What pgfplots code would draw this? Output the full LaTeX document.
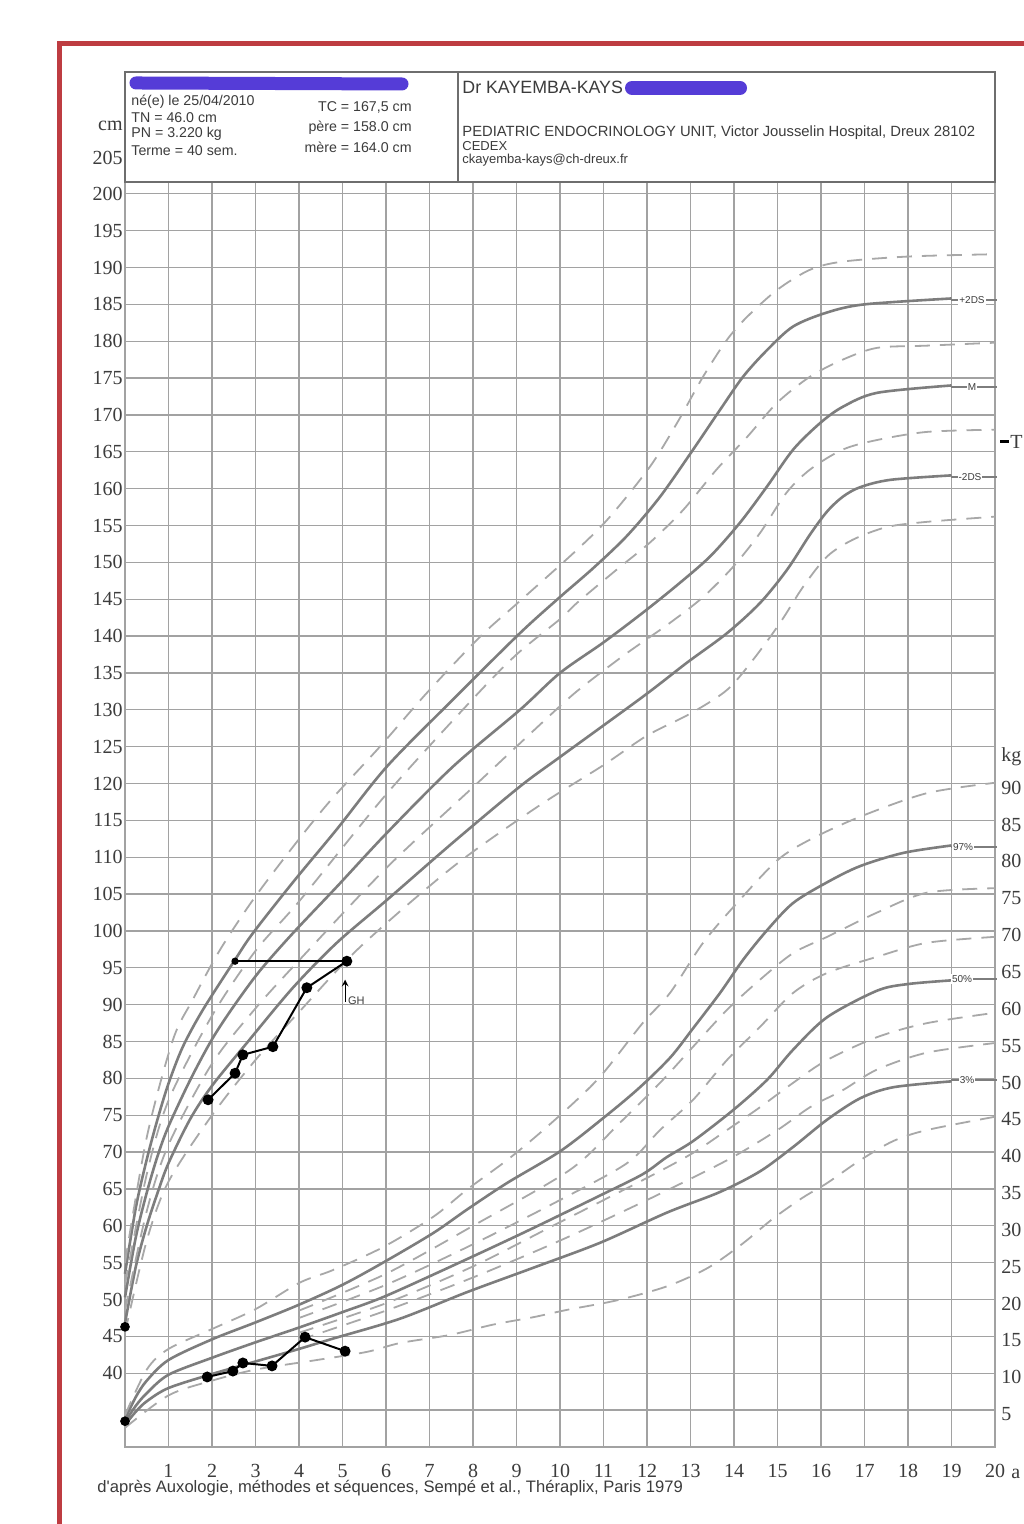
\documentclass[border=0pt]{standalone}
\usepackage{pgfplots}
\pgfplotsset{compat=1.18}
\usepackage{fontspec}
\setmainfont{Liberation Serif}
\newfontfamily\sans{Liberation Sans}
\definecolor{gridc}{RGB}{162,162,162}
\definecolor{curvec}{RGB}{125,125,125}
\definecolor{dashcol}{RGB}{168,168,168}
\definecolor{framec}{RGB}{190,60,65}
\definecolor{blobc}{RGB}{85,60,215}
\definecolor{txtc}{RGB}{60,60,60}
\definecolor{boxc}{RGB}{110,110,110}
\pgfplotsset{
  solidc/.style={curvec, line width=1.3pt, smooth, no markers},
  dashc/.style={dashcol, line width=0.9pt, dash pattern=on 7.5pt off 5pt, smooth, no markers},
}
\begin{document}
\begin{tikzpicture}
\useasboundingbox (-62.5pt,-38.5pt) rectangle (449pt,723.5pt);
\fill[white] (-62.5pt,-38.5pt) rectangle (449pt,723.5pt);
\begin{axis}[
  at={(0pt,0pt)}, anchor=south west, scale only axis,
  width=435pt, height=632.5pt,
  xmin=0, xmax=20, ymin=30, ymax=201.6, clip=false,
  xtick={1,...,20}, ytick={40,45,...,200},
  extra x ticks={0}, extra x tick labels={},
  extra y ticks={30,35}, extra y tick labels={},
  extra tick style={grid=major},
  grid=major, major grid style={gridc, line width=0.65pt},
  axis line style={gridc, line width=0.8pt},
  tick style={draw=none},
  /pgf/number format/assume math mode=true,
  ticklabel style={font=\fontsize{10}{10}\selectfont, text=txtc},
  xticklabel style={anchor=center, yshift=-12pt},
  yticklabel style={anchor=east, inner sep=1pt},
]
% ---------- height: solid curves ----------
\addplot[solidc] table {
0 53.5
0.25 62.5
0.5 69
0.75 74.5
1.0 79.3
1.33 84.3
1.79 89.3
2.53 96.1
2.94 99.7
3.86 106.6
4.87 113.8
6.02 122.3
7.54 131.4
9.08 140.4
10.0 145.3
10.76 149.2
11.54 153.6
12.30 158.9
13.06 165.3
13.68 170.7
14.21 175.2
14.76 178.8
15.36 182.0
16.14 183.9
17.0 185.0
19.0 185.8
};
\addplot[solidc] table {
0 50.3
0.25 58.5
0.5 64.5
0.75 69.5
1.0 73.5
1.5 79.8
2.0 85.3
2.5 89.8
3.1 94.6
3.86 99.7
4.87 106.0
6.02 113.3
7.54 122.3
9.08 130.0
10.0 135.0
10.99 139.1
11.91 143.2
12.69 146.9
13.45 150.8
14.14 155.4
14.76 160.3
15.36 165.3
15.98 168.9
16.5 171.1
17.29 173.0
19.0 174.0
};
\addplot[solidc] table {
0 46.8
0.25 54.5
0.5 60
0.75 64.5
1.0 68.5
1.5 74.5
2.0 79
2.8 84.8
3.86 92.3
4.87 98.4
6.02 104.2
7.54 112.0
9.08 119.6
10.0 123.6
11.91 131.8
12.92 136.4
13.84 140.4
14.6 144.5
15.22 149.0
15.75 153.8
16.14 156.9
16.5 158.9
16.9 160.2
17.6 161.2
19.0 161.8
};
% ---------- height: dashed curves ----------
\addplot[dashc] table {
0 55
0.5 72
1.1 85.2
1.56 90.7
2.18 97.4
2.94 104.2
3.86 111.4
4.71 117.6
5.86 125.0
6.94 132.3
8.16 139.9
9.01 144.4
10.39 151.7
11.15 156.2
12.07 163.0
12.69 168.9
13.29 175.2
13.84 180.2
14.3 183.3
15.0 187.0
15.75 189.7
16.5 190.8
18.05 191.5
20 191.8
};
\addplot[dashc] table {
0 52
0.5 67
1 77
2 88.5
3 97.3
4 104
6 118.5
8 131.5
9.0 137.5
10.0 142.3
10.39 144.5
11.3 149
12.07 152.7
12.83 157.1
13.6 162.6
14.3 167.0
15.0 171.7
15.75 175.2
16.5 177.5
17.29 179.1
18.44 179.4
20 179.8
};
\addplot[dashc] table {
0 48.5
0.5 62
1 71
2 82
3 89.5
4 96
6 108.5
8 119.5
10 130.5
10.62 133.6
11.54 137.7
12.53 141.8
13.29 145.3
13.98 149.4
14.6 154.0
15.2 159.4
15.75 162.6
16.5 165.3
17.29 166.6
18.44 167.7
20 168.0
};
\addplot[dashc] table {
0 45.5
0.5 58
1 66
2 75
3 82.5
4 89
5.4 97.8
7.54 108.7
9.47 116.8
11 122.5
12 126.5
13.0 129.5
13.84 132.7
14.44 136.8
15.06 141.8
15.59 146.7
16.14 150.8
16.74 153.1
17.52 154.8
18.44 155.5
20 156.2
};
% ---------- weight (kg + 30) ----------
\addplot[solidc] table[y expr=\thisrowno{1}+30] {
0 3.8
0.25 6.8
0.5 9.0
1.0 11.8
2.0 14.6
3.0 16.9
4.0 19.3
5.0 22.0
5.93 25.0
7.08 29.0
7.86 32.2
8.78 35.8
10.0 40.1
10.99 44.6
11.8 48.6
12.53 52.8
13.06 56.8
13.68 61.6
14.21 66.1
14.76 70.1
15.36 73.8
16.14 76.6
16.9 78.8
17.9 80.6
19.0 81.6
};
\addplot[solidc] table[y expr=\thisrowno{1}+30] {
0 3.4
0.25 5.6
0.5 7.3
1.0 9.8
2.0 12.1
3.0 14.2
4.0 16.2
5.0 18.3
6.0 20.5
7.83 25.4
9.35 29.6
10.95 34.2
11.9 37.0
12.45 39.3
13.06 41.5
13.98 45.7
14.76 49.8
15.36 53.9
16.14 58.3
17.29 61.9
18.0 62.8
19.0 63.3
};
\addplot[solidc] table[y expr=\thisrowno{1}+30] {
0 3.0
0.25 4.8
0.5 6.2
1.0 8.0
2.0 9.9
3.0 11.6
4.0 13.3
4.78 14.7
6.32 17.4
7.86 21.0
9.38 24.3
10.92 27.7
12.46 31.8
13.68 34.6
14.6 37.4
15.36 40.7
16.14 44.4
16.9 47.3
17.66 48.8
19.0 49.6
};
\addplot[dashc] table[y expr=\thisrowno{1}+30] {
0 4.3
0.5 10.5
1 13.3
2 16.0
3 18.7
4.02 22.3
4.78 24.0
5.93 27.1
7.08 31.2
7.86 34.9
8.78 38.9
9.54 42.6
10.39 47.1
10.99 50.7
11.9 57.5
12.53 61.6
13.29 68.4
14.07 73.8
15.0 79.6
15.75 82.4
16.9 85.5
18.44 88.7
20 90.1
};
\addplot[dashc] table[y expr=\thisrowno{1}+30] {
4 18.5
6 23.5
8 30
10.23 37.6
11.38 44.0
12.3 49.4
13.06 54.3
13.84 59.3
14.6 63.4
15.36 67.0
16.14 69.2
17.29 72.5
18.44 75.2
20 75.8
};
\addplot[dashc] table[y expr=\thisrowno{1}+30] {
4 17.5
6 22
8 27.5
10 33.5
11.54 38.5
12.3 43.0
13.06 47.1
13.84 52.5
14.6 57.0
15.36 61.6
16.14 64.3
17.29 66.5
18.44 68.4
20 69.2
};
\addplot[dashc] table[y expr=\thisrowno{1}+30] {
4 15.5
6 19.5
8 24.5
10 30.5
12 36.5
13.06 39.9
13.84 43.0
14.6 46.1
15.36 49.4
16.14 52.5
17.29 55.6
18.44 57.5
20 58.9
};
\addplot[dashc] table[y expr=\thisrowno{1}+30] {
4 14.5
6 18.5
8 23
10 28
12 33.5
13.84 38.9
15.0 43.0
15.75 46.1
16.5 48.4
17.29 51.2
18.44 53.5
20 54.8
};
\addplot[dashc] table[y expr=\thisrowno{1}+30] {
0 2.6
1 7
2 9
3 10.5
4.41 11.8
5.56 12.9
6.32 14.1
7.47 15.2
8.46 16.6
9.38 17.6
10.16 18.6
11.31 19.9
12.46 21.8
13.4 24.3
14.2 27.6
14.9 31.0
15.6 33.9
16.14 35.8
16.9 38.9
17.66 41.5
18.44 43.0
20 44.8
};
% ---------- patient ----------
\addplot[black, line width=1pt, mark=*, mark size=2.2pt] coordinates {
(1.91,77.1) (2.53,80.7) (2.71,83.2) (3.40,84.3) (4.18,92.3) (5.10,95.9)};
\addplot[black, line width=0.8pt, mark=*, mark size=1.4pt] coordinates {
(2.53,95.9) (5.10,95.9)};
\addplot[black, only marks, mark=*, mark size=2.2pt] coordinates {(0,46.3) (0,33.5)};
\addplot[black, line width=1pt, mark=*, mark size=2.2pt] table[y expr=\thisrowno{1}+30] {
1.89 9.5
2.48 10.3
2.71 11.4
3.38 11.0
4.14 14.9
5.06 13.0
};
\draw[black, line width=0.5pt, ->, >=stealth] (axis cs:5.06,90.4) -- (axis cs:5.06,93.4);
\node[anchor=west, inner sep=0pt, font=\sans\fontsize{5.5}{5.5}\selectfont, text=txtc] at (axis cs:5.12,90.6) {GH};
\end{axis}
% ---------- pixel-coordinate decorations ----------
\begin{scope}[x=0.5pt, y=-0.5pt, shift={(-62.5pt,723.5pt)}]
\draw[framec, line width=2.5pt] (60,1540) -- (60,44) -- (1040,44);
\fill[white] (125,72) rectangle (995,182);
\draw[boxc, line width=0.8pt] (125,72) rectangle (995,182);
\draw[boxc, line width=0.8pt] (458,72) -- (458,182);
\draw[blobc, line width=6.5pt, line cap=round] (136,83) -- (402,84);
\draw[blobc, line width=7pt, line cap=round] (632,88) -- (740,88);
\begin{scope}[every node/.style={inner sep=0pt, text=txtc, font=\sans\fontsize{7.1}{8}\selectfont}]
\node[anchor=west] at (131,102) {né(e) le 25/04/2010};
\node[anchor=west] at (131,118) {TN = 46.0 cm};
\node[anchor=west] at (131,134) {PN = 3.220 kg};
\node[anchor=west] at (131,151) {Terme = 40 sem.};
\node[anchor=east] at (412,107) {TC = 167,5 cm};
\node[anchor=east] at (412,128) {père = 158.0 cm};
\node[anchor=east] at (412,147) {mère = 164.0 cm};
\node[anchor=west, font=\sans\fontsize{8.9}{9}\selectfont] at (462,87) {Dr KAYEMBA-KAYS};
\node[anchor=west, font=\sans\fontsize{7.4}{8}\selectfont] at (462,133) {PEDIATRIC ENDOCRINOLOGY UNIT, Victor Jousselin Hospital, Dreux 28102};
\node[anchor=west, font=\sans\fontsize{6.5}{7}\selectfont] at (462,146) {CEDEX};
\node[anchor=west, font=\sans\fontsize{6.5}{7}\selectfont] at (462,160) {ckayemba-kays@ch-dreux.fr};
\node[anchor=west, font=\sans\fontsize{8.3}{9}\selectfont] at (97,1488) {d'après Auxologie, méthodes et séquences, Sempé et al., Théraplix, Paris 1979};
\end{scope}
\node[anchor=east, inner sep=0pt, text=txtc, font=\fontsize{10}{10}\selectfont] at (123,126) {cm};
\node[anchor=east, inner sep=0pt, text=txtc, font=\fontsize{10}{10}\selectfont] at (123,158) {205};
\node[anchor=west, inner sep=0pt, text=txtc, font=\fontsize{10}{10}\selectfont] at (1011,1474) {a};
% curve labels
\begin{scope}[every node/.style={inner sep=0.5pt, fill=white, text=txtc, font=\sans\fontsize{5}{5}\selectfont}]
\draw[curvec, line width=0.8pt] (951,300) -- (997,300);
\node at (972,300) {+2DS};
\draw[curvec, line width=0.8pt] (951,387) -- (997,387);
\node at (972,387) {M};
\draw[curvec, line width=0.8pt] (951,477) -- (997,477);
\node at (970,477) {-2DS};
\draw[curvec, line width=0.8pt] (951,847) -- (997,847);
\node at (963,847) {97\%};
\draw[curvec, line width=0.8pt] (951,979) -- (997,979);
\node at (962,979) {50\%};
\draw[curvec, line width=0.8pt] (951,1080) -- (997,1080);
\node at (967,1080) {3\%};
\end{scope}
\draw[black, line width=1.5pt] (1000,442) -- (1009,442);
\node[anchor=west, inner sep=0pt, text=txtc, font=\fontsize{10}{10}\selectfont] at (1010,442) {T};
% kg scale
\node[anchor=west, inner sep=0pt, text=txtc, font=\fontsize{10}{10}\selectfont] at (1001,757) {kg};
\foreach \k in {5,10,...,90} {
  \node[anchor=west, inner sep=0pt, text=txtc, font=\fontsize{10}{10}\selectfont] at (1001,{1447-7.37*\k+4}) {\k};
}
\end{scope}
\end{tikzpicture}
\end{document}
